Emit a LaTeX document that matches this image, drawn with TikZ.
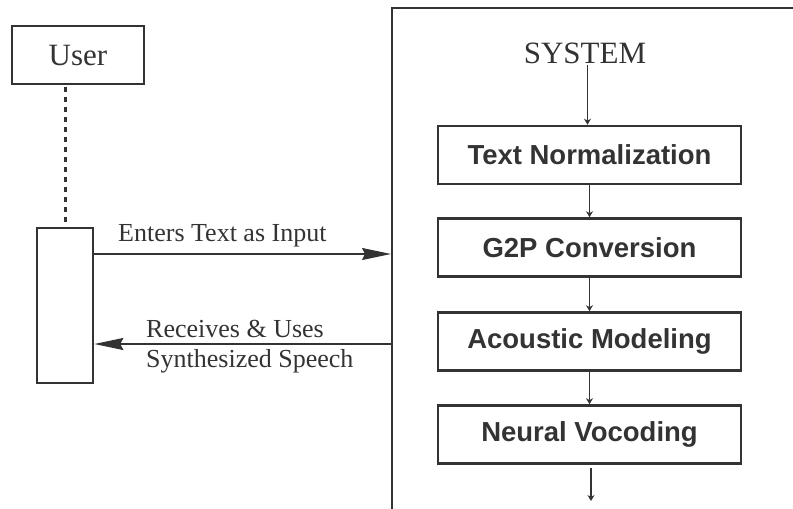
\documentclass[tikz,border=0pt]{standalone}
\usepackage{fontspec}
\setmainfont{Liberation Serif}
\newfontfamily\boxfont{Liberation Sans}
\usetikzlibrary{arrows.meta}
\definecolor{ink}{HTML}{333333}
\begin{document}
\begin{tikzpicture}[x=1pt,y=-1pt,
  every node/.style={text=ink},
  frame/.style={draw=ink,line width=2.6pt,inner sep=0pt},
  stagebox/.style={frame,minimum width=303pt,minimum height=58pt,
    font=\boxfont\bfseries\fontsize{27.5}{30}\selectfont},
  bigarrow/.style={draw=ink,line width=1.6pt,-{Stealth[length=29pt,width=12pt,inset=3pt]}},
  smallarrow/.style={draw=ink,line width=1.6pt,-{Stealth[length=6pt,width=7pt]}},
  lbl/.style={font=\fontsize{26}{28}\selectfont,inner sep=0pt}]
\useasboundingbox (0,0) rectangle (793,509);

% actor and its lifeline
\node[frame,minimum width=132pt,minimum height=58pt,font=\fontsize{31}{33}\selectfont]
  (user) at (78,55) {User};
\node[frame,minimum width=56pt,minimum height=155pt] (act) at (65,305.5) {};
\draw[ink,line width=3pt,dash pattern=on 5pt off 5pt] (65,87) -- (act.north);

% system frame (open to the right and bottom)
\coordinate (sysTL) at (392,8);
\coordinate (sysBL) at (392,509);
\coordinate (sysTR) at (793,8);
\draw[ink,line width=2.6pt] (sysTR) -- (sysTL) -- (sysBL);
\coordinate (inEnd) at (391,254);
\coordinate (outStart) at (392,344);

% messages
\draw[bigarrow] (act.east |- inEnd) -- (inEnd);
\node[lbl,anchor=base west] (inlbl) at (118,241) {Enters Text as Input};
\draw[bigarrow] (outStart) -- (act.east |- outStart);
\node[lbl,anchor=base west] (outlbl1) at (146,337) {Receives \& Uses};
\node[lbl,anchor=base west] (outlbl2) at (146,367) {Synthesized Speech};

% pipeline
\node[font=\fontsize{31}{33}\selectfont,inner sep=1pt] (sys) at (585,53) {SYSTEM};
\node[stagebox] (tn)  at (589.5,155) {Text Normalization};
\node[stagebox] (g2p) at (589.5,247.5) {G2P Conversion};
\node[stagebox] (am)  at (589.5,341.5) {Acoustic Modeling};
\node[stagebox] (nv)  at (589.5,434.5) {Neural Vocoding};
\coordinate (out) at (591,501);

\draw[smallarrow] (sys.south -| tn.north) ++(-2,0) coordinate (s1) (s1) -- (s1 |- tn.north);
\draw[smallarrow] (tn) -- (g2p);
\draw[smallarrow] (g2p) -- (am);
\draw[smallarrow] (am) -- (nv);
\draw[smallarrow,shorten <=3pt] (nv.south -| out) -- (out);
\end{tikzpicture}
\end{document}
